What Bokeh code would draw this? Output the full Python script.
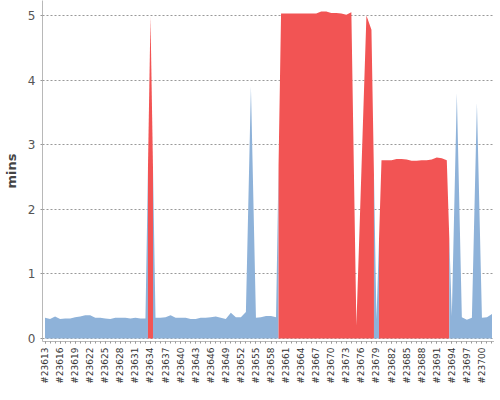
import math
from bokeh.plotting import figure
from bokeh.models import Range1d, FixedTicker
from bokeh.embed import file_html
from bokeh.resources import INLINE

# ---- data -------------------------------------------------------------
build_numbers = list(range(23613, 23703))

minutes = [
    0.32, 0.30, 0.34, 0.30, 0.31, 0.31, 0.33, 0.34, 0.36, 0.36,
    0.32, 0.32, 0.31, 0.30, 0.32, 0.32, 0.32, 0.31, 0.32, 0.31,
    0.31, 4.98, 0.32, 0.32, 0.33, 0.36, 0.32, 0.32, 0.32, 0.30,
    0.30, 0.32, 0.32, 0.33, 0.34, 0.32, 0.30, 0.40, 0.33, 0.33,
    0.41, 3.90, 0.32, 0.33, 0.35, 0.35, 0.33, 5.03, 5.03, 5.03,
    5.03, 5.03, 5.03, 5.03, 5.03, 5.06, 5.06, 5.04, 5.04, 5.03,
    5.01, 5.05, 0.20, 2.60, 5.00, 4.78, 0.30, 2.76, 2.76, 2.76,
    2.78, 2.78, 2.77, 2.75, 2.75, 2.76, 2.76, 2.77, 2.80, 2.79,
    2.76, 0.35, 3.80, 0.33, 0.29, 0.32, 3.65, 0.32, 0.33, 0.38,
]

failed_builds = [23634] + list(range(23660, 23679)) + list(range(23680, 23694))

tick_builds = build_numbers[::3]
y_ticks = [0, 1, 2, 3, 4, 5]

SUCCESS_COLOR = "#8EB2D9"
FAILURE_COLOR = "#F25454"

# ---- build area polygons (one per run of equal result) ----------------
n = len(minutes)
results = ["F" if b in failed_builds else "S" for b in build_numbers]
xs, ys, colors = [], [], []
i = 0
while i < n:
    j = i
    while j + 1 < n and results[j + 1] == results[i]:
        j += 1
    if i > 0:
        lx, ly = i - 0.5, (minutes[i - 1] + minutes[i]) / 2.0
    else:
        lx, ly = i, minutes[i]
    if j < n - 1:
        rx, ry = j + 0.5, (minutes[j] + minutes[j + 1]) / 2.0
    else:
        rx, ry = j, minutes[j]
    px = [lx, lx] + list(range(i, j + 1)) + [rx, rx]
    py = [0.0, ly] + minutes[i:j + 1] + [ry, 0.0]
    xs.append(px)
    ys.append(py)
    colors.append(FAILURE_COLOR if results[i] == "F" else SUCCESS_COLOR)
    i = j + 1

# ---- figure -------------------------------------------------------------
FRAME_H = 341
px_per_unit = (FRAME_H - 15 - 3) / 5.0
p = figure(
    frame_width=452, frame_height=FRAME_H,
    output_backend="svg", toolbar_location=None,
    x_range=Range1d(-0.5, n - 0.5),
    y_range=Range1d(-3 / px_per_unit, 5 + 15 / px_per_unit),
    min_border_top=0, min_border_right=0, min_border_left=0, min_border_bottom=0,
)
p.outline_line_color = None
p.background_fill_color = "white"
p.border_fill_color = "white"

p.patches(xs, ys, fill_color=colors, line_color=None)

# x axis
xa = p.xaxis[0]
xa.ticker = FixedTicker(ticks=list(range(0, n, 3)), minor_ticks=list(range(n)))
xa.major_label_overrides = {build_numbers.index(b): "#%d" % b for b in tick_builds}
xa.major_label_orientation = math.pi / 2
xa.major_label_text_font = "DejaVu Sans"
xa.major_label_text_font_size = "9px"
xa.major_label_text_color = "#333333"
xa.major_label_standoff = 4
xa.major_tick_in = 0
xa.major_tick_out = 2
xa.minor_tick_in = 0
xa.minor_tick_out = 2
xa.major_tick_line_color = "#999999"
xa.minor_tick_line_color = "#999999"
xa.axis_line_color = "#b8b8b8"

# y axis
ya = p.yaxis[0]
ya.ticker = FixedTicker(ticks=y_ticks)
ya.minor_tick_line_color = None
ya.major_tick_in = 0
ya.major_tick_out = 2
ya.major_tick_line_color = "#999999"
ya.axis_line_color = "#b8b8b8"
ya.major_label_text_font = "DejaVu Sans"
ya.major_label_text_font_size = "12px"
ya.major_label_text_color = "#555555"
ya.major_label_standoff = 5
ya.axis_label = "mins"
ya.axis_label_text_font = "DejaVu Sans"
ya.axis_label_text_font_style = "bold"
ya.axis_label_text_font_size = "13px"
ya.axis_label_text_color = "#444444"
ya.axis_label_standoff = 6

p.xgrid.visible = False
p.ygrid.ticker = FixedTicker(ticks=y_ticks)
p.ygrid.grid_line_color = "#999999"
p.ygrid.grid_line_dash = "2 2"
p.ygrid.grid_line_width = 1

open("out.html", "w").write(file_html(p, INLINE))
